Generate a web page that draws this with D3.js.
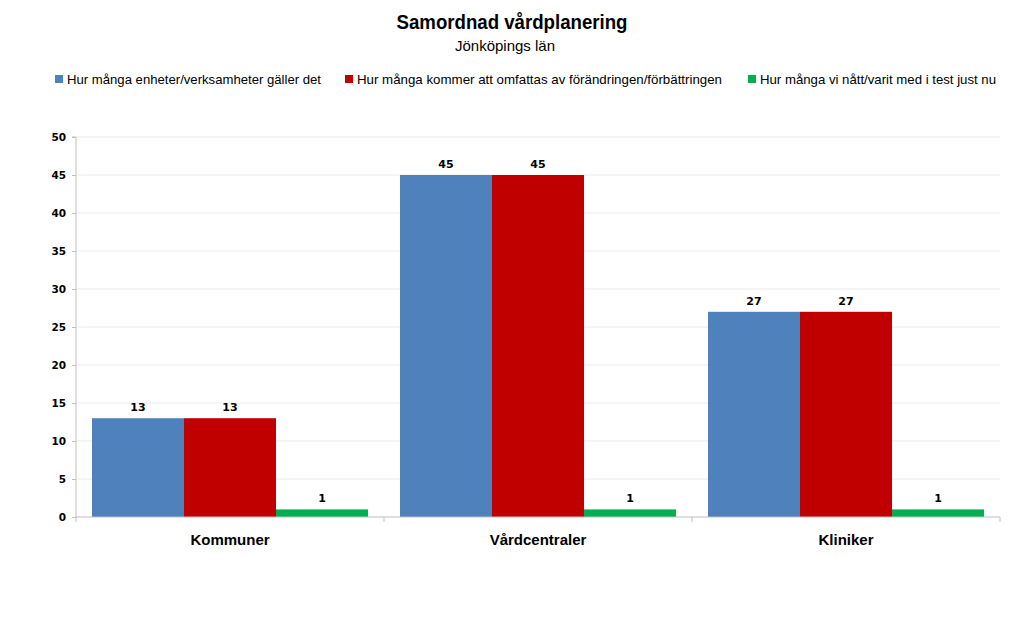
<!DOCTYPE html>
<html><head><meta charset="utf-8">
<script src="https://cdn.jsdelivr.net/npm/d3@7"></script>
<style>body{margin:0;background:#fff}svg{display:block}</style>
</head><body>
<script>
const categories = ["Kommuner", "Vårdcentraler", "Kliniker"];
const seriesNames = ["Hur många enheter/verksamheter gäller det", "Hur många kommer att omfattas av förändringen/förbättringen", "Hur många vi nått/varit med i test just nu"];
const enheter = [13, 45, 27];
const omfattas = [13, 45, 27];
const natt = [1, 1, 1];
const colors = ["#4F81BD", "#C00000", "#00B050"];
const yTicks = [0, 5, 10, 15, 20, 25, 30, 35, 40, 45, 50];
const series = [enheter, omfattas, natt];

const W = 1024, H = 623;
const svg = d3.select("body").append("svg").attr("width", W).attr("height", H);
const m = {l: 76, r: 1000, t: 137, b: 517};
const font = "Liberation Sans Narrow, Liberation Sans, Arial, sans-serif";

const x0 = d3.scaleBand().domain(categories).range([m.l, m.r]).padding(0);
const x1 = d3.scaleBand().domain(d3.range(series.length)).range([0, x0.bandwidth()]).paddingOuter(16 / 92 * 0.999).paddingInner(0);
const y = d3.scaleLinear().domain([0, 50]).range([m.b, m.t]);

// gridlines
svg.append("g").selectAll("line").data(yTicks.filter(d => d > 0)).join("line")
  .attr("x1", m.l).attr("x2", m.r).attr("y1", d => y(d)).attr("y2", d => y(d))
  .attr("stroke", "#ebebeb").attr("stroke-width", 1);

// bars
const g = svg.append("g");
categories.forEach((c, ci) => {
  series.forEach((s, si) => {
    g.append("rect").attr("x", x0(c) + x1(si)).attr("width", x1.bandwidth())
      .attr("y", y(s[ci])).attr("height", y(0) - y(s[ci])).attr("fill", colors[si]);
    g.append("text").attr("x", x0(c) + x1(si) + x1.bandwidth() / 2).attr("y", y(s[ci]) - 7)
      .attr("text-anchor", "middle").attr("font-family", "DejaVu Sans, sans-serif").attr("font-weight", "bold")
      .attr("font-size", 11).attr("fill", "#000").text(s[ci]);
  });
});

// y axis
const ya = svg.append("g").attr("transform", `translate(${m.l},0)`)
  .call(d3.axisLeft(y).tickValues(yTicks).tickSize(4).tickPadding(6));
ya.select(".domain").attr("stroke", "#bfbfbf").attr("d", `M-4,${m.t}H0V${m.b}`);
ya.selectAll(".tick line").attr("stroke", "#bfbfbf");
ya.selectAll("text").attr("font-family", "DejaVu Sans, sans-serif").attr("font-weight", "bold").attr("font-size", 10.5).attr("fill", "#000");

// x axis
const xa = svg.append("g").attr("transform", `translate(0,${m.b})`);
xa.append("line").attr("x1", m.l).attr("x2", m.r).attr("stroke", "#bfbfbf");
const bounds = categories.map(c => x0(c)).concat([m.r]);
xa.selectAll(".bt").data(bounds).join("line").attr("x1", d => d).attr("x2", d => d).attr("y1", 0).attr("y2", 5).attr("stroke", "#bfbfbf");
xa.selectAll(".cl").data(categories).join("text").attr("x", d => x0(d) + x0.bandwidth() / 2).attr("y", 28)
  .attr("text-anchor", "middle").attr("font-family", "Liberation Sans, Arial, sans-serif").attr("font-weight", "bold")
  .attr("font-size", 15).attr("fill", "#000").text(d => d);

// titles
svg.append("text").attr("x", 512).attr("y", 29).attr("text-anchor", "middle").attr("font-family", font)
  .attr("font-weight", "bold").attr("font-size", 21).attr("fill", "#000")
  .attr("textLength", 231).attr("lengthAdjust", "spacingAndGlyphs").text("Samordnad vårdplanering");
svg.append("text").attr("x", 505).attr("y", 51).attr("text-anchor", "middle").attr("font-family", font)
  .attr("font-size", 15).attr("fill", "#000").text("Jönköpings län");

// legend
const legX = [55, 345, 748];
const legW = [254, 365, 236];
const lg = svg.append("g");
seriesNames.forEach((n, i) => {
  lg.append("rect").attr("x", legX[i]).attr("y", 75).attr("width", 8).attr("height", 8).attr("fill", colors[i]);
  lg.append("text").attr("x", legX[i] + 12).attr("y", 84).attr("font-family", font).attr("font-size", 13.5)
    .attr("fill", "#000").attr("textLength", legW[i]).attr("lengthAdjust", "spacingAndGlyphs").text(n);
});
</script>
</body></html>
